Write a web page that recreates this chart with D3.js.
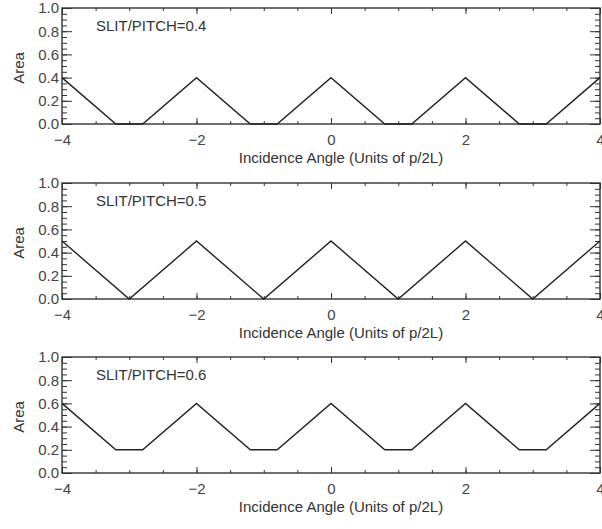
<!DOCTYPE html>
<html><head><meta charset="utf-8">
<script src="https://cdn.jsdelivr.net/npm/d3@7"></script>
<style>body{margin:0;background:#fff}svg{display:block}text{font-family:"Liberation Sans",Arial,sans-serif;fill:#333}</style>
</head><body><svg id="c" width="602" height="529"></svg>
<script>
const ratios = ["0.4", "0.5", "0.6"];
const xs04 = [-4, -3.2, -2.8, -2, -1.2, -0.8, 0, 0.8, 1.2, 2, 2.8, 3.2, 4];
const ys04 = [0.4, 0, 0, 0.4, 0, 0, 0.4, 0, 0, 0.4, 0, 0, 0.4];
const xs05 = [-4, -3, -2, -1, 0, 1, 2, 3, 4];
const ys05 = [0.5, 0, 0.5, 0, 0.5, 0, 0.5, 0, 0.5];
const xs06 = [-4, -3.2, -2.8, -2, -1.2, -0.8, 0, 0.8, 1.2, 2, 2.8, 3.2, 4];
const ys06 = [0.6, 0.2, 0.2, 0.6, 0.2, 0.2, 0.6, 0.2, 0.2, 0.6, 0.2, 0.2, 0.6];
const xTicks = [-4, -2, 0, 2, 4];
const yTicks = [0, 0.2, 0.4, 0.6, 0.8, 1.0];
const xLabel = "Incidence Angle (Units of p/2L)";
const yLabel = "Area";

const series = [[xs04, ys04], [xs05, ys05], [xs06, ys06]];
const tops = [8, 183, 357];
const ph = 116;
const x = d3.scaleLinear().domain([-4, 4]).range([62, 600]);
const svg = d3.select("#c");
const col = "#333";
const fmtX = d => (d < 0 ? "\u2212" + Math.abs(d) : String(d));

series.forEach((s, i) => {
  const top = tops[i], bot = top + ph;
  const y = d3.scaleLinear().domain([0, 1]).range([bot, top]);
  const g = svg.append("g");
  const minorX = d3.range(-4, 4.001, 0.5);
  const minorY = d3.range(0, 1.0001, 0.05);
  g.append("g").attr("transform", `translate(0,${bot})`)
    .call(d3.axisBottom(x).tickValues(minorX).tickSize(-3).tickFormat(""))
    .call(a => a.select(".domain").remove());
  g.append("g").attr("transform", `translate(0,${bot})`)
    .call(d3.axisBottom(x).tickValues(xTicks).tickSize(-6).tickPadding(10).tickFormat(fmtX))
    .call(a => a.select(".domain").remove());
  g.append("g").attr("transform", `translate(0,${top})`)
    .call(d3.axisTop(x).tickValues(minorX).tickSize(-3).tickFormat(""))
    .call(a => a.select(".domain").remove());
  g.append("g").attr("transform", `translate(0,${top})`)
    .call(d3.axisTop(x).tickValues(xTicks).tickSize(-6).tickFormat(""))
    .call(a => a.select(".domain").remove());
  g.append("g").attr("transform", `translate(62,0)`)
    .call(d3.axisLeft(y).tickValues(minorY).tickSize(-5).tickFormat(""))
    .call(a => a.select(".domain").remove());
  g.append("g").attr("transform", `translate(62,0)`)
    .call(d3.axisLeft(y).tickValues(yTicks).tickSize(-10).tickPadding(3).tickFormat(d3.format(".1f")))
    .call(a => a.select(".domain").remove());
  g.append("g").attr("transform", `translate(600,0)`)
    .call(d3.axisRight(y).tickValues(minorY).tickSize(-5).tickFormat(""))
    .call(a => a.select(".domain").remove());
  g.append("g").attr("transform", `translate(600,0)`)
    .call(d3.axisRight(y).tickValues(yTicks).tickSize(-10).tickFormat(""))
    .call(a => a.select(".domain").remove());
  g.selectAll(".tick line").attr("stroke", col).attr("stroke-width", 1);
  g.selectAll(".tick text").attr("font-size", 15).style("fill", "#444")
    .attr("font-family", "'Liberation Sans',Arial,sans-serif");
  g.append("rect").attr("x", 62).attr("y", top).attr("width", 538).attr("height", ph)
    .attr("fill", "none").attr("stroke", col).attr("stroke-width", 1.4);
  const pts = s[0].map((v, k) => [v, s[1][k]]);
  g.append("path").datum(pts)
    .attr("d", d3.line().x(d => x(d[0])).y(d => y(d[1])))
    .attr("fill", "none").attr("stroke", "#222").attr("stroke-width", 1.4);
  g.append("text").attr("x", 96).attr("y", top + 23).attr("font-size", 15)
    .text("SLIT/PITCH=" + ratios[i]);
  g.append("text").attr("x", x(0) + 10).attr("y", bot + 39).attr("text-anchor", "middle")
    .attr("font-size", 15).text(xLabel);
  g.append("text").attr("transform", `translate(24,${top + ph / 2 + 2}) rotate(-90)`)
    .attr("text-anchor", "middle").attr("font-size", 15).text(yLabel);
});
</script></body></html>
